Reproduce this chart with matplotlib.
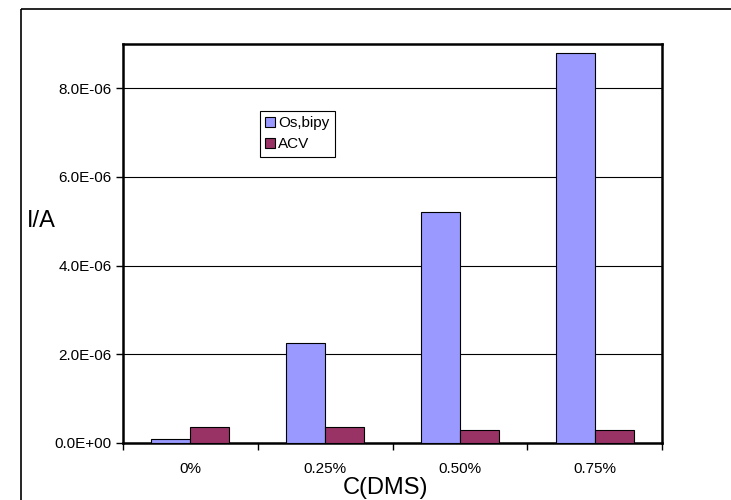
import matplotlib.pyplot as plt
import numpy as np
from matplotlib.patches import Rectangle

plt.rcParams['font.family'] = ['Liberation Sans', 'DejaVu Sans']

# data (values in A)
categories = ['0%', '0.25%', '0.50%', '0.75%']
os_bipy = [0.08e-6, 2.25e-6, 5.2e-6, 8.8e-6]
acv = [0.36e-6, 0.36e-6, 0.29e-6, 0.29e-6]

W, H = 731, 500
fig = plt.figure(figsize=(W / 100, H / 100), dpi=100)

# outer chart border
fig.patches.append(Rectangle((21 / W, 1 - 9 / H), 720 / W, -510 / H,
                             transform=fig.transFigure, fill=False,
                             edgecolor='black', linewidth=1.2))

ax = fig.add_axes([123 / W, 1 - 443 / H, 539 / W, 399 / H])

x = np.arange(len(categories))
bw = 0.289
ax.bar(x - bw / 2, os_bipy, bw, color='#9999FF', edgecolor='black',
       linewidth=0.8, label='Os,bipy', zorder=3)
ax.bar(x + bw / 2, acv, bw, color='#993366', edgecolor='black',
       linewidth=0.8, label='ACV', zorder=3)

ax.set_xlim(-0.5, 3.5)
ax.set_ylim(0, 9e-6)

yt = [0, 2e-6, 4e-6, 6e-6, 8e-6]
ax.set_yticks(yt)
ax.set_yticklabels(['%.1E' % v for v in yt])
ax.yaxis.grid(True, color='black', linewidth=0.8, zorder=0)

ax.set_xticks(x)
ax.set_xticklabels(categories)
ax.tick_params(axis='x', which='major', length=0, pad=14, labelsize=11)
ax.set_xticks(np.arange(-0.5, 4, 1), minor=True)
ax.tick_params(axis='x', which='minor', length=5, width=1, direction='out')
ax.tick_params(axis='y', length=5, width=1, direction='out', labelsize=11, pad=3)

for s in ax.spines.values():
    s.set_linewidth(1.8)
    s.set_color('black')

fig.text(27 / W, 1 - 221 / H, 'I/A', fontsize=17, ha='left', va='center')
fig.text(385 / W, 1 - 488 / H, 'C(DMS)', fontsize=17,
         ha='center', va='center')

leg = ax.legend(loc='upper left', bbox_to_anchor=(260 / W, 1 - 111 / H),
                bbox_transform=fig.transFigure, borderaxespad=0,
                fancybox=False, edgecolor='black', framealpha=1,
                fontsize=11, handlelength=0.6, handleheight=0.6,
                handletextpad=0.25, borderpad=0.35, labelspacing=0.45)
leg.get_frame().set_linewidth(0.8)

fig.savefig('out.png', dpi=100)
